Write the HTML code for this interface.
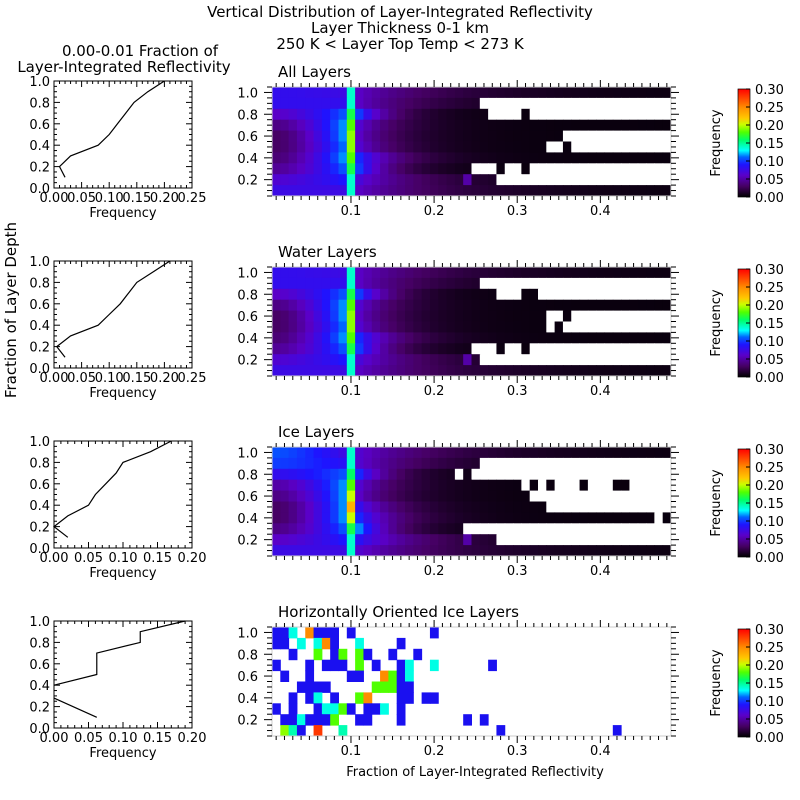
<!DOCTYPE html>
<html><head><meta charset="utf-8"><style>
body{margin:0;background:#fff;}
svg{display:block;font-family:"DejaVu Sans","Liberation Sans",sans-serif;}
</style></head><body>
<svg id="s" width="800" height="800" xmlns="http://www.w3.org/2000/svg">
<text x="400" y="17" font-size="15" text-anchor="middle">Vertical Distribution of Layer-Integrated Reflectivity</text>
<text x="400" y="33" font-size="15" text-anchor="middle">Layer Thickness 0-1 km</text>
<text x="400" y="49" font-size="15" text-anchor="middle">250 K &lt; Layer Top Temp &lt; 273 K</text>
<text x="140" y="56" font-size="15" text-anchor="middle">0.00-0.01 Fraction of</text>
<text x="124" y="72" font-size="15" text-anchor="middle">Layer-Integrated Reflectivity</text>
<text x="278" y="77" font-size="15">All Layers</text>
<text x="278" y="257" font-size="15">Water Layers</text>
<text x="278" y="437" font-size="15">Ice Layers</text>
<text x="278" y="617" font-size="15">Horizontally Oriented Ice Layers</text>
<text transform="translate(16,310) rotate(-90)" font-size="15" text-anchor="middle">Fraction of Layer Depth</text>
<text x="475" y="776" font-size="13" text-anchor="middle">Fraction of Layer-Integrated Reflectivity</text>
<defs><linearGradient id="cb" x1="0" y1="1" x2="0" y2="0">
<stop offset="0" stop-color="#000"/><stop offset="0.1" stop-color="#460064"/><stop offset="0.2" stop-color="#5a00c8"/><stop offset="0.3" stop-color="#1e14ff"/><stop offset="0.37" stop-color="#0064ff"/><stop offset="0.43" stop-color="#00ffff"/><stop offset="0.53" stop-color="#00ff64"/><stop offset="0.6" stop-color="#50ff00"/><stop offset="0.67" stop-color="#c8ff00"/><stop offset="0.73" stop-color="#ffc800"/><stop offset="0.83" stop-color="#ff8c00"/><stop offset="1" stop-color="#ff0000"/>
</linearGradient></defs>
</svg>
<script>
const S=document.getElementById('s');const NS='http://www.w3.org/2000/svg';
function el(t,a,txt){const e=document.createElementNS(NS,t);for(const k in a)e.setAttribute(k,a[k]);if(txt!==undefined)e.textContent=txt;S.appendChild(e);return e;}
const stops=[[0,[0,0,0]],[0.03,[70,0,100]],[0.06,[90,0,200]],[0.09,[30,20,255]],[0.11,[0,100,255]],[0.13,[0,255,255]],[0.16,[0,255,100]],[0.18,[80,255,0]],[0.2,[200,255,0]],[0.22,[255,200,0]],[0.25,[255,140,0]],[0.3,[255,0,0]]];
function cmap(v){v=Math.max(0,Math.min(0.3,v));for(let i=1;i<stops.length;i++){if(v<=stops[i][0]){const a=stops[i-1],b=stops[i];const t=(v-a[0])/(b[0]-a[0]);const c=a[1].map((x,j)=>Math.round(x+(b[1][j]-x)*t));return `rgb(${c})`;}}return 'red';}
const P1=[[.08,.075,.14,.055,10],[.08,.08,.14,.055,8],[.06,.105,.165,.095,4],[.04,.115,.18,.06,5],[.03,.115,.19,.055,5],[.03,.11,.19,.06,5],[.035,.115,.18,.09,5],[.045,.105,.165,.095,4],[.065,.09,.14,.065,8],[.075,.075,.14,.055,10]];
const M1=[[],[[25,48]],[[26,30],[31,48]],[],[[35,48]],[[33,35],[36,48]],[],[[24,27],[28,30],[31,48]],[[27,48]],[]];
const M2=[[],[[25,48]],[[27,30],[32,48]],[],[[33,35],[36,48]],[[33,34],[35,48]],[],[[24,27],[28,30],[31,48]],[[25,48]],[]];
const P3=[[.105,.075,.14,.06,10],[.1,.085,.14,.06,8],[.08,.105,.16,.09,4],[.05,.115,.18,.06,5],[.04,.115,.2,.055,5],[.03,.115,.23,.075,5],[.03,.115,.2,.09,5],[.04,.105,.165,.11,4],[.06,.09,.14,.08,8],[.075,.075,.14,.06,10]];
const M3=[[],[[25,48]],[[22,23],[24,48]],[[30,31],[32,33],[34,37],[38,41],[43,48]],[[31,48]],[[33,48]],[[46,47]],[[23,48]],[[27,48]],[]];
const x0=272,cw=399/48,rh=10.9;
function heat(oy,P,M){
 for(let r=0;r<10;r++){const [L0,L8,C,R,d]=P[r];
  for(let c=0;c<48;c++){let v;
   if(c<9)v=L0+(L8-L0)*Math.pow(c/8,1.5);else if(c==9)v=C;else v=R*Math.exp(-(c-10)/d)+0.004;
   if(r==8&&c==23)v=0.05;
   let w=M[r].some(([a,b])=>c>=a&&c<b);
   el('rect',{x:x0+c*cw,y:oy+r*rh,width:cw+0.5,height:rh+0.5,fill:w?'#fff':cmap(v)});
 }}
}
function axesHeat(oy){
 el('rect',{x:x0,y:oy,width:399,height:109,fill:'none',stroke:'#ccc'});
 const X=v=>272+(v-0.005)*831.25, Y=v=>oy+(1.05-v)*109;
 for(let i=1;i<=48;i++){const x=X(i/100),maj=i%10==0;const L=maj?7:4;
  el('line',{x1:x,y1:oy,x2:x,y2:oy-L,stroke:'#000'});el('line',{x1:x,y1:oy+109,x2:x,y2:oy+109+L,stroke:'#000'});}
 for(let i=1;i<=21;i++){const y=Y(i*0.05);if(y<oy-0.5||y>oy+109.5)continue;const maj=i%4==0;const L=maj?8:5;
  el('line',{x1:x0,y1:y,x2:x0-L,y2:y,stroke:'#000'});el('line',{x1:x0+399,y1:y,x2:x0+399+L,y2:y,stroke:'#000'});}
 for(const v of [0.2,0.4,0.6,0.8,1.0])el('text',{x:258,y:Y(v)+5,'font-size':13,'text-anchor':'end'},v.toFixed(1));
 for(const v of [0.1,0.2,0.3,0.4])el('text',{x:X(v),y:oy+128,'font-size':13,'text-anchor':'middle'},v.toFixed(1));
 el('rect',{x:738,y:oy+2,width:12,height:108,fill:'url(#cb)',stroke:'#000','stroke-width':0.7});
 for(let i=0;i<=6;i++){const y=oy+110-i*18;el('line',{x1:750,y1:y,x2:746,y2:y,stroke:'#000'});el('text',{x:755,y:y+5,'font-size':13},(i*0.05).toFixed(2));}
 el('text',{transform:`translate(720,${oy+56}) rotate(-90)`,'font-size':13,'text-anchor':'middle'},'Frequency');
}
function lineplot(oy,xmax,pts){
 const lx=54,w=138,ty=oy-6,by=oy+101;
 const X=v=>lx+v/xmax*w, Y=v=>by-v*107;
 el('rect',{x:lx,y:ty,width:w,height:107,fill:'none',stroke:'#000'});
 const n=Math.round(xmax*100);
 for(let i=1;i<n;i++){const x=X(i/100);const L=i%5==0?6:3;el('line',{x1:x,y1:by,x2:x,y2:by-L,stroke:'#000'});el('line',{x1:x,y1:ty,x2:x,y2:ty+L,stroke:'#000'});}
 for(let i=1;i<20;i++){const y=Y(i*0.05);const L=i%4==0?6:3;el('line',{x1:lx,y1:y,x2:lx+L,y2:y,stroke:'#000'});el('line',{x1:lx+w,y1:y,x2:lx+w-L,y2:y,stroke:'#000'});}
 for(let i=0;i<=5;i++)el('text',{x:50,y:Y(i*0.2)+5,'font-size':13,'text-anchor':'end'},(i*0.2).toFixed(1));
 for(let i=0;i<=n/5;i++)el('text',{x:X(i*0.05),y:by+14,'font-size':13,'text-anchor':'middle'},(i*0.05).toFixed(2));
 el('text',{x:lx+w/2,y:by+29,'font-size':13,'text-anchor':'middle'},'Frequency');
 for(const seg of pts)el('polyline',{points:seg.map(p=>X(p[0])+','+Y(p[1])).join(' '),fill:'none',stroke:'#000','stroke-width':1.2});
}
heat(87,P1,M1);axesHeat(87);
heat(267,P1,M2);axesHeat(267);
heat(447,P3,M3);axesHeat(447);
const B=0.1,Cy=0.135,G=0.18,O=0.25,R2=0.28,YG=0.19,T=0.145;
const sp=[[[0,B],[1,B],[2,Cy],[4,O],[5,B],[6,B],[7,B],[9,B],[19,B]],
[[0,B],[1,B],[3,Cy],[5,Cy],[6,O],[7,B],[10,Cy],[15,B]],
[[2,B],[5,G],[7,B],[8,G],[10,G],[11,B],[14,B],[17,B]],
[[0,B],[4,B],[6,B],[7,B],[8,B],[10,G],[12,B],[15,B],[16,Cy],[19,Cy],[26,B]],
[[1,B],[4,B],[9,B],[10,B],[13,O],[14,G],[15,B],[16,Cy]],
[[3,B],[4,B],[5,B],[6,B],[12,G],[13,G],[14,G],[15,B],[16,B]],
[[2,B],[4,B],[5,Cy],[7,B],[10,G],[11,O],[15,B],[16,B],[18,B],[19,B]],
[[0,B],[2,B],[5,B],[6,Cy],[7,Cy],[8,G],[9,B],[11,B],[12,B],[13,Cy],[15,B]],
[[1,B],[2,B],[3,Cy],[4,B],[5,B],[6,B],[7,G],[10,B],[11,B],[15,B],[23,B],[25,B]],
[[1,YG],[2,T],[3,B],[5,R2],[8,T],[27,B],[41,B]]];
sp.forEach((row,r)=>row.forEach(([c,v])=>el('rect',{x:x0+c*cw,y:627+r*rh,width:cw+0.5,height:rh+0.5,fill:v==B?'#1a10f0':cmap(v)})));
axesHeat(627);
lineplot(87,0.25,[[[.02,.1],[.01,.2],[.03,.3],[.08,.4],[.1,.5],[.115,.6],[.13,.7],[.145,.8],[.17,.9],[.2,1]]]);
lineplot(267,0.25,[[[.02,.1],[.005,.2],[.03,.3],[.08,.4],[.1,.5],[.12,.6],[.135,.7],[.15,.8],[.18,.9],[.21,1]]]);
lineplot(447,0.2,[[[.02,.1],[0,.2],[.02,.3],[.05,.4],[.06,.5],[.075,.6],[.09,.7],[.1,.8],[.14,.9],[.17,1]]]);
lineplot(627,0.2,[[[.062,.1],[0,.28]],[[0,.4],[.062,.5],[.062,.7],[.125,.8],[.125,.9],[.19,1]]]);
</script>
</body></html>
